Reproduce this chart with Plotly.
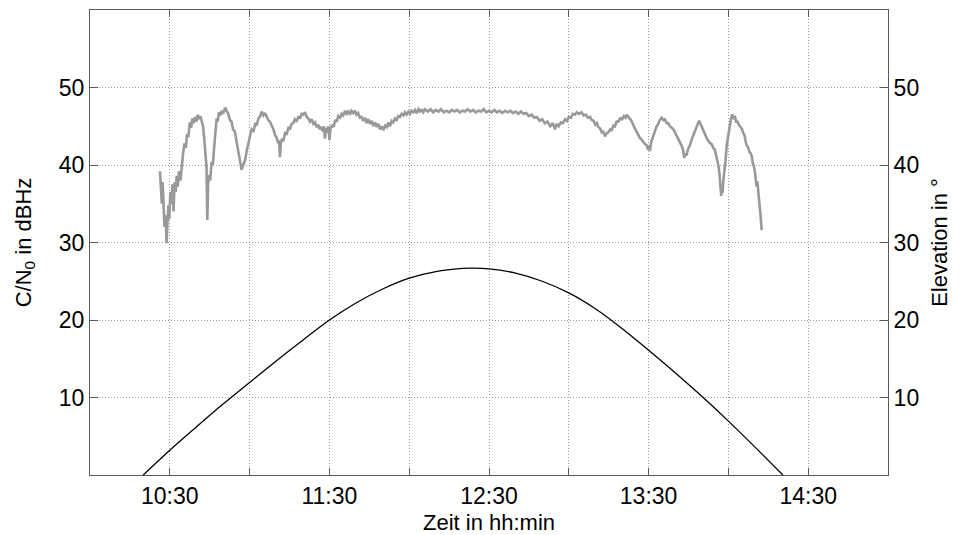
import pandas as pd
import plotly.graph_objects as go

# ---------------- data ----------------
BASE = "2000-01-01 10:00"

# C/N0 of the satellite signal: minutes after 10:00 and dBHz
cn0_min = [
    26.3, 26.6, 27.0, 27.3, 27.7, 28.0, 28.4, 28.8, 29.1, 29.5,
    29.8, 30.2, 30.6, 31.0, 31.4, 31.8, 32.2, 32.6, 33.0, 33.5,
    34.0, 34.5, 35.0, 35.5, 36.0, 36.5, 37.0, 37.5, 38.0, 38.5,
    39.0, 39.5, 40.0, 40.5, 41.0, 41.5, 42.0, 42.5, 43.0, 43.4,
    43.8, 44.1, 44.4, 44.8, 45.2, 45.7, 46.2, 46.6, 47.0, 47.3,
    47.6, 48.0, 48.5, 49.0, 49.5, 50.0, 50.8, 51.5, 52.0, 52.6,
    53.2, 53.8, 54.5, 55.0, 55.4, 55.9, 56.4, 57.0, 57.6, 58.3,
    58.9, 59.5, 60.2, 60.8, 61.5, 62.1, 62.7, 63.3, 64.0, 64.5,
    65.2, 65.8, 66.4, 67.0, 67.6, 68.3, 69.0, 69.5, 70.2, 70.8,
    71.1, 71.4, 71.7, 72.2, 72.7, 73.3, 73.9, 74.6, 75.2, 75.8,
    76.4, 77.0, 77.7, 78.4, 79.0, 79.6, 80.2, 80.8, 81.5, 82.1,
    82.7, 83.3, 84.0, 84.6, 85.2, 85.8, 86.4, 87.0, 87.6, 88.0,
    88.3, 88.7, 89.2, 89.6, 90.0, 90.4, 91.0, 91.6, 92.2, 92.8,
    93.3, 94.0, 94.6, 95.2, 95.9, 96.5, 97.1, 97.7, 98.3, 99.0,
    99.6, 100.2, 100.8, 101.5, 102.1, 102.8, 103.4, 104.0, 104.6, 105.3,
    105.9, 106.5, 107.2, 107.8, 108.4, 109.0, 109.7, 110.3, 111.0, 111.6,
    112.2, 112.8, 113.4, 114.0, 114.7, 115.3, 115.9, 116.5, 117.2, 117.8,
    118.4, 119.0, 119.7, 120.3, 120.9, 121.6, 122.2, 122.8, 123.5, 124.1,
    124.7, 125.3, 125.9, 127, 128, 129, 130, 131, 132, 133,
    134, 135, 136, 137, 138, 139, 140, 141, 142, 143,
    144, 145, 146, 147, 148, 149, 150, 151, 152, 153,
    154, 155, 156, 157, 158, 159, 160, 161, 162, 163,
    164, 165, 166, 167, 168, 169, 170, 171, 172, 173,
    174, 174.8, 175.5, 176.2, 177, 177.8, 178.6, 179.3, 180, 180.8,
    181.5, 182.3, 183, 183.8, 184.8, 185.6, 186.4, 187.2, 188, 188.6,
    189.3, 190, 190.6, 191.1, 191.8, 192.4, 193, 193.6, 194.2, 194.8,
    195.5, 196.1, 196.8, 197.4, 198, 198.6, 199.3, 200, 200.7, 201.3,
    201.8, 202.4, 203, 203.6, 204.3, 205, 205.6, 206.1, 206.7, 207.3,
    208, 208.6, 209.2, 209.8, 210.3, 210.5, 211, 211.7, 212.4, 213,
    213.6, 214.2, 214.9, 215.5, 216.1, 216.8, 217.4, 218, 218.7, 219.3,
    219.9, 220.5, 221.2, 221.8, 222.4, 223, 223.4, 223.7, 224.2, 224.8,
    225.6, 226.2, 226.8, 227.4, 228, 228.6, 229, 229.6, 230, 230.6,
    231.2, 231.8, 232.5, 233.1, 233.7, 234.3, 234.9, 235.4, 235.8, 236.2,
    236.6, 237.0, 237.3, 237.5, 237.8, 238.1, 238.5, 238.9, 239.4, 239.9,
    240.3, 240.6, 241.0, 241.4, 241.9, 242.4, 242.9, 243.4, 243.9, 244.4,
    245.0, 245.6, 246.1, 246.5, 246.9, 247.4, 247.9, 248.4, 248.8, 249.2,
    249.6, 250.0, 250.3, 250.6, 250.9, 251.2, 251.5, 251.8, 252.1, 252.5,
]
cn0_db = [
    39.2, 37.5, 35.0, 37.8, 34.5, 32.0, 33.5, 29.9, 32.5, 34.8,
    33.0, 36.5, 35.0, 37.5, 34.0, 37.8, 36.5, 38.6, 37.2, 39.2,
    38.0, 40.0, 41.5, 42.8, 42.2, 44.0, 43.6, 45.5, 44.8, 46.0,
    45.4, 46.2, 45.6, 46.5, 45.9, 46.3, 45.4, 45.0, 43.2, 41.5,
    39.8, 32.9, 37.5, 38.7, 38.0, 40.4, 40.0, 42.0, 43.5, 44.8,
    46.0, 45.6, 46.8, 46.4, 47.0, 46.6, 47.4, 46.9, 46.6, 45.8,
    45.6, 44.6, 44.3, 43.2, 42.6, 41.5, 40.5, 39.4, 40.0, 40.6,
    41.8, 42.9, 43.8, 44.6, 44.4, 45.3, 45.2, 46.0, 46.3, 46.9,
    46.4, 46.7, 46.2, 45.8, 45.6, 45.0, 44.6, 43.9, 43.5, 42.8,
    43.2, 41.0, 42.7, 43.4, 43.1, 44.1, 44.0, 44.8, 44.7, 45.3,
    45.4, 45.9, 45.6, 46.3, 46.0, 46.6, 46.5, 46.8, 46.2, 46.0,
    45.6, 45.9, 45.3, 45.5, 44.9, 45.2, 44.6, 44.9, 44.3, 45.0,
    43.4, 44.8, 44.2, 45.0, 43.2, 44.6, 45.2, 44.9, 45.8, 45.6,
    46.3, 46.1, 46.6, 46.4, 47.0, 46.6, 46.9, 46.5, 47.0, 46.7,
    47.0, 46.5, 46.7, 46.1, 46.2, 45.7, 46.1, 45.4, 45.9, 45.3,
    45.7, 45.0, 45.5, 44.9, 45.3, 44.6, 45.0, 44.5, 45.1, 44.9,
    45.5, 45.0, 45.7, 45.5, 46.0, 45.8, 46.3, 46.2, 46.6, 46.4,
    46.8, 46.5, 46.9, 46.6, 47.0, 46.8, 47.1, 46.7, 47.2, 46.9,
    47.1, 46.8, 47.2, 46.9, 47.2, 46.8, 47.1, 46.9, 47.2, 46.8,
    47.0, 46.8, 47.1, 46.9, 47.1, 46.8, 47.0, 46.9, 47.2, 46.9,
    47.1, 46.8, 47.0, 46.9, 47.2, 46.8, 47.0, 46.8, 47.1, 46.8,
    47.0, 46.7, 47.0, 46.8, 47.0, 46.7, 46.9, 46.6, 46.9, 46.6,
    46.7, 46.3, 46.5, 46.1, 46.2, 45.7, 45.9, 45.4, 45.6, 45.0,
    45.4, 44.6, 45.3, 45.0, 45.5, 45.4, 45.9, 45.7, 46.2, 46.1,
    46.6, 46.5, 46.8, 46.6, 46.8, 46.4, 46.5, 46.1, 46.2, 45.8,
    45.7, 45.2, 45.4, 44.9, 44.7, 44.2, 44.3, 43.7, 44.1, 44.2,
    44.6, 44.5, 45.1, 45.0, 45.6, 45.6, 46.0, 45.9, 46.3, 46.1,
    46.5, 46.2, 46.0, 45.7, 45.1, 44.6, 44.2, 43.8, 43.5, 43.3,
    42.9, 42.7, 42.6, 42.0, 42.5, 41.8, 43.0, 43.8, 44.3, 45.0,
    45.3, 45.8, 46.1, 45.8, 45.9, 45.4, 45.4, 45.0, 44.8, 44.6,
    44.2, 43.8, 43.4, 42.9, 42.5, 41.9, 40.9, 41.5, 41.2, 42.0,
    42.6, 43.3, 43.9, 44.4, 44.9, 45.4, 45.7, 45.2, 45.1, 44.4,
    43.9, 43.5, 43.1, 42.8, 42.7, 42.2, 42.0, 41.3, 40.7, 40.0,
    39.0, 37.5, 36.0, 37.2, 36.4, 38.0, 39.1, 40.5, 42.6, 43.9,
    44.8, 45.2, 46.0, 46.5, 46.1, 46.3, 45.6, 45.6, 45.2, 44.9,
    44.7, 44.1, 43.8, 43.0, 42.5, 42.3, 41.7, 41.5, 41.1, 40.2,
    39.8, 39.0, 37.8, 37.2, 37.9, 36.3, 36.2, 34.5, 33.5, 31.6,
]

# Satellite elevation: minutes after 10:00 and degrees
elev_min = [20, 30, 40, 50, 60, 70, 80, 90, 100, 110, 120, 130, 140, 144,
            150, 160, 170, 180, 190, 200, 210, 220, 230, 240, 250, 260.5]
elev_deg = [0.0, 3.2, 6.2, 9.15, 11.95, 14.7, 17.4, 20.0, 22.2, 24.0, 25.4, 26.25, 26.65, 26.7,
            26.6, 26.05, 25.0, 23.5, 21.45, 18.9, 16.1, 13.2, 10.15, 6.95, 3.6, 0.0]

# x-axis: labelled ticks on the half hours, grid every 30 min
tick_min = [30, 90, 150, 210, 270]
tick_text = ["10:30", "11:30", "12:30", "13:30", "14:30"]
y_ticks = [10, 20, 30, 40, 50]

# ---------------- figure ----------------
base = pd.Timestamp(BASE)
cn0_t = base + pd.to_timedelta(cn0_min, unit="min")
elev_t = base + pd.to_timedelta(elev_min, unit="min")
tick_t = base + pd.to_timedelta(tick_min, unit="min")

FONT = "Liberation Sans, Arial, Helvetica, sans-serif"
GRID = "#9c9c9c"
GRIDDASH = "1px,2px"
AXIS = "#5a5a5a"
HALF_HOUR_MS = 30 * 60 * 1000

fig = go.Figure()
fig.add_trace(go.Scatter(x=cn0_t, y=cn0_db, mode="lines",
                         line=dict(color="#999999", width=2.6),
                         showlegend=False, hoverinfo="skip"))
fig.add_trace(go.Scatter(x=elev_t, y=elev_deg, mode="lines", yaxis="y2",
                         line=dict(color="#000000", width=1.3, shape="spline", smoothing=0.8),
                         showlegend=False, hoverinfo="skip"))

fig.update_layout(
    width=960, height=535,
    margin=dict(l=90, r=72, t=10, b=60),
    paper_bgcolor="white", plot_bgcolor="white",
    font=dict(family=FONT, size=22, color="black"),
    xaxis=dict(
        type="date", automargin=False,
        range=[base, base + pd.Timedelta(minutes=300)],
        tickmode="array", tickvals=list(tick_t), ticktext=tick_text,
        ticks="inside", ticklen=7, tickcolor=AXIS, tickwidth=1,
        ticklabelstandoff=0,
        showline=True, linecolor=AXIS, linewidth=1, mirror="ticks",
        showgrid=True, gridcolor=GRID, griddash=GRIDDASH, gridwidth=1,
        minor=dict(tick0=base, dtick=HALF_HOUR_MS, ticks="inside", ticklen=7,
                   tickcolor=AXIS, showgrid=True, gridcolor=GRID,
                   griddash=GRIDDASH, gridwidth=1),
        zeroline=False,
        tickfont=dict(size=23),
        title=dict(text="Zeit in hh:min", font=dict(size=22), standoff=10),
    ),
    yaxis=dict(
        range=[0, 60], tickmode="array", tickvals=y_ticks, automargin=False,
        ticks="inside", ticklen=8, tickcolor=AXIS,
        showline=True, linecolor=AXIS, linewidth=1,
        showgrid=True, gridcolor=GRID, griddash=GRIDDASH, gridwidth=1,
        zeroline=False, tickfont=dict(size=23),
        title=dict(text="C/N<sub>0</sub> in dBHz", font=dict(size=22), standoff=21),
    ),
    yaxis2=dict(
        range=[0, 60], tickmode="array", tickvals=y_ticks, automargin=False,
        overlaying="y", side="right",
        ticks="inside", ticklen=8, tickcolor=AXIS,
        showline=True, linecolor=AXIS, linewidth=1,
        showgrid=False, zeroline=False, tickfont=dict(size=23),
        title=dict(text="Elevation in °", font=dict(size=22), standoff=13),
    ),
)

fig.write_html("out.html")
